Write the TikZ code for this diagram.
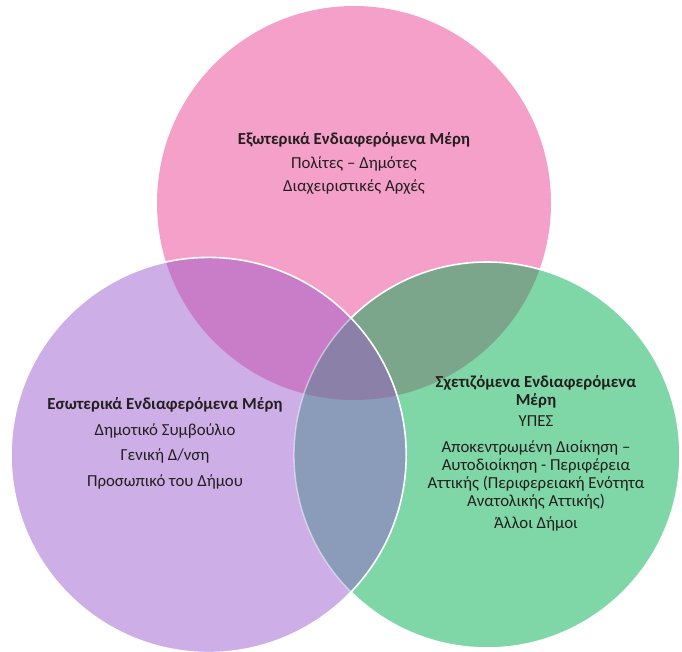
\documentclass[tikz,border=0pt]{standalone}
\usepackage{fontspec}
\setmainfont{Carlito}
\definecolor{cpink}{HTML}{F5A0C8}
\definecolor{cpurple}{HTML}{CEAEE6}
\definecolor{cgreen}{HTML}{7FD6A6}
\definecolor{cpp}{HTML}{C97DC8}
\definecolor{cpg}{HTML}{7BA68C}
\definecolor{cug}{HTML}{8B9BBA}
\definecolor{cmid}{HTML}{8A80A8}
\definecolor{ctext}{HTML}{231F20}
\begin{document}
\begin{tikzpicture}[x=1pt,y=-1pt,
  lbl/.style={align=center,text=ctext,font=\fontsize{16.8}{18}\selectfont,inner sep=0pt},
  ring/.style={draw=white,line width=1.6pt}]
\useasboundingbox (0,0) rectangle (682,651);
\def\pinkc{(354,203) circle (197pt)}
\def\purpc{(208.6,455) circle (197.6pt)}
\def\greenc{(487,455) circle (193pt)}
\fill[cpink] \pinkc;
\fill[cpurple] \purpc;
\fill[cgreen] \greenc;
\begin{scope}
  \clip \pinkc;
  \fill[cpp] \purpc;
  \fill[cpg] \greenc;
\end{scope}
\begin{scope}
  \clip \purpc;
  \fill[cug] \greenc;
\end{scope}
\begin{scope}
  \clip \pinkc;
  \clip \purpc;
  \fill[cmid] \greenc;
\end{scope}
\begin{scope}
  \clip \purpc;
  \draw[draw=white,opacity=0.5,line width=1.4pt] \greenc;
\end{scope}
\begin{scope}[even odd rule]
  \clip (-10,-10) rectangle (692,661) \purpc;
  \draw[ring] \greenc;
\end{scope}
\draw[ring] \purpc;
\node[lbl] (ext) at (354,163.5) {\textbf{Εξωτερικά Ενδιαφερόμενα Μέρη}\\[5.5pt]
  Πολίτες – Δημότες\\[5.5pt]
  Διαχειριστικές Αρχές};
\node[lbl] (int) at (165,443.5) {\textbf{Εσωτερικά Ενδιαφερόμενα Μέρη}\\[7.5pt]
  Δημοτικό Συμβούλιο\\[7.5pt]
  Γενική Δ/νση\\[7.5pt]
  Προσωπικό του Δήμου};
\node[lbl] (rel) at (536,453) {\textbf{Σχετιζόμενα Ενδιαφερόμενα}\\
  \textbf{Μέρη}\\[3pt]
  ΥΠΕΣ\\[8pt]
  Αποκεντρωμένη Διοίκηση –\\
  Αυτοδιοίκηση - Περιφέρεια\\
  Αττικής (Περιφερειακή Ενότητα\\
  Ανατολικής Αττικής)\\[4pt]
  Άλλοι Δήμοι};
\end{tikzpicture}
\end{document}
